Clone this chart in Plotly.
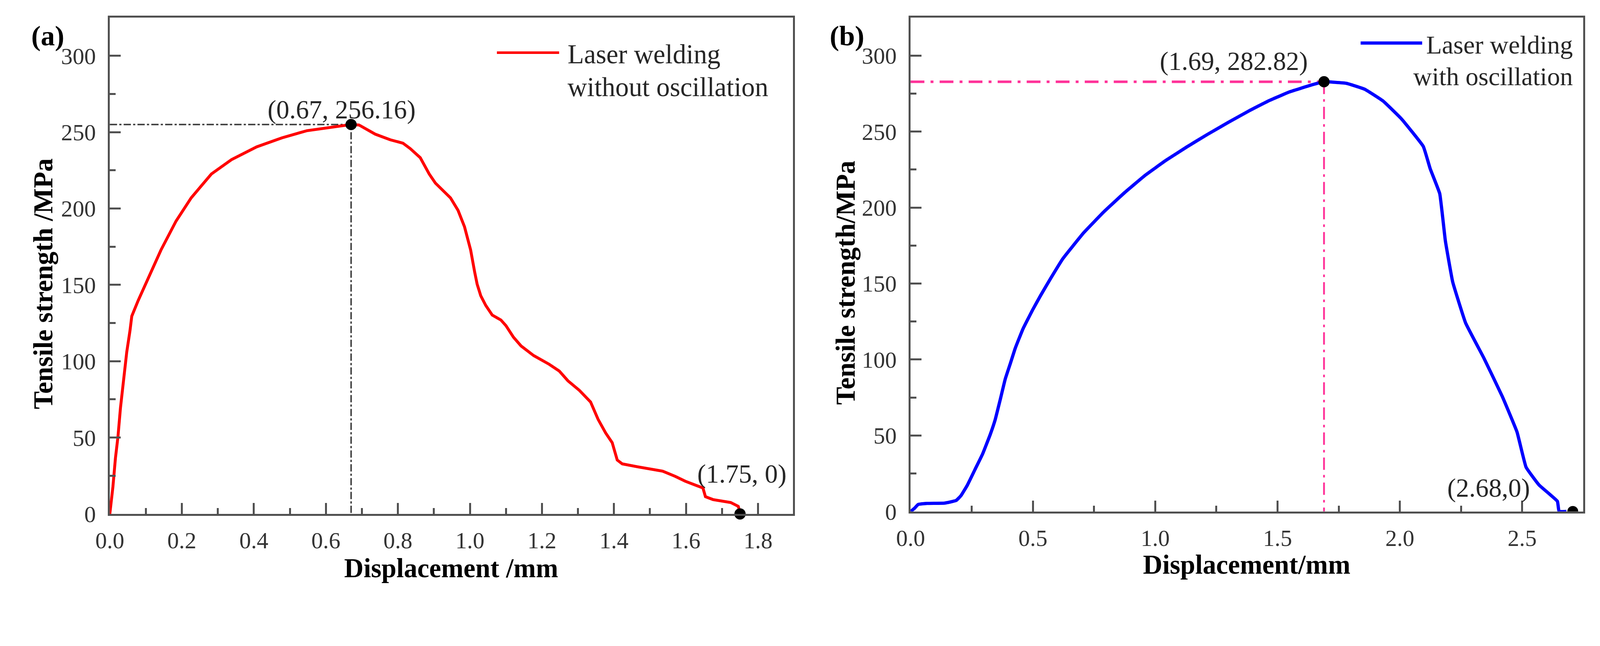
import plotly.graph_objects as go

# ---------------- data ----------------
# (a) Laser welding without oscillation
disp_a = [0, 0.0086, 0.0156, 0.0226, 0.0296, 0.038, 0.047, 0.056, 0.061, 0.0787, 0.0997,
          0.142, 0.184, 0.226, 0.282, 0.338, 0.408, 0.478, 0.548, 0.618, 0.67, 0.692,
          0.737, 0.779, 0.814, 0.834, 0.862, 0.887, 0.904, 0.946, 0.967, 0.985, 1.002,
          1.013, 1.02, 1.03, 1.044, 1.062, 1.086, 1.1, 1.121, 1.142, 1.177, 1.22, 1.248,
          1.272, 1.304, 1.335, 1.356, 1.377, 1.395, 1.409, 1.423, 1.465, 1.535, 1.57,
          1.598, 1.647, 1.654, 1.675, 1.724, 1.745, 1.752]
stress_a = [0, 17.7, 36.5, 50.5, 69.5, 87, 106, 120, 129.5, 139.7, 150.5,
            172.8, 191.8, 207, 222.6, 232, 240.4, 246.3, 251, 253.5, 255, 254.7,
            248.7, 245, 242.8, 239.3, 233.3, 222.6, 216.7, 207, 198.8, 188, 172.8,
            158.6, 150.5, 142.9, 136.5, 130.2, 127, 123.3, 115.7, 110, 103.7, 98, 93.6,
            87.2, 80.9, 73.3, 61.9, 53, 46.7, 35.3, 32.8, 30.9, 28, 24.6,
            21.4, 17, 11.3, 9.4, 7.5, 5, 0]

# (b) Laser welding with oscillation
disp_b = [0, 0.0156, 0.031, 0.067, 0.139, 0.186, 0.206, 0.232, 0.263, 0.294, 0.325,
          0.346, 0.366, 0.387, 0.407, 0.428, 0.459, 0.5, 0.531, 0.573, 0.623, 0.708,
          0.792, 0.876, 0.961, 1.045, 1.13, 1.214, 1.298, 1.383, 1.467, 1.552, 1.637,
          1.69, 1.781, 1.856, 1.931, 2.006, 2.096, 2.124, 2.163, 2.186, 2.216, 2.269,
          2.344, 2.419, 2.479, 2.516, 2.569, 2.644, 2.651, 2.681]
stress_b = [0, 2, 4.6, 5.3, 5.5, 7.2, 10.4, 17.3, 27.5, 37.7, 50.4,
            60.5, 73.3, 87.2, 97, 107.5, 120, 133, 142, 153.5, 166.5, 183.5,
            197.5, 210, 221.5, 231.2, 240, 248.2, 256, 263.6, 270.5, 276.3, 280.6,
            282.82, 281.8, 277.9, 270.2, 258.5, 240.2, 225.6, 209.2, 178.2, 151.1, 124,
            100.8, 75.6, 52.3, 29.1, 17.4, 6.7, 0, 0]

peak_a = (0.67, 255)
end_a = (1.75, 0)
peak_b = (1.69, 282.82)
end_b = (2.707, 0)

label_peak_a = "(0.67, 256.16)"
label_end_a = "(1.75, 0)"
label_peak_b = "(1.69, 282.82)"
label_end_b = "(2.68,0)"

legend_a = ["Laser welding", "without oscillation"]
legend_b = ["Laser welding", "with oscillation"]

x_ticks_a = dict(dtick=0.2, minor=0.1, rng=[0, 1.897])
x_ticks_b = dict(dtick=0.5, minor=0.25, rng=[0, 2.75])
y_range = [0, 325]

# ---------------- layout geometry ----------------
# The page is photographed slightly zoomed (about 1.076x) with an 8px body margin,
# so target positions (in photo pixels) are converted to CSS pixels here.
Z = 1.076
M = 8
WF = int(round(4397 / Z - M))
HF = int(round(1653 / Z - M))


def s(v):
    return v / Z


def cx(p):
    return (p / Z - M) / WF


def cy(p):
    return 1 - (p / Z - M) / HF


FONT = "Liberation Serif"
AXC = "#505050"
TXT = "#262626"

fig = go.Figure()

# reference lines (a)
fig.add_trace(go.Scatter(x=[0, peak_a[0], peak_a[0]], y=[peak_a[1], peak_a[1], 0],
                         mode="lines",
                         line=dict(color="#3a3a3a", width=s(4),
                                   dash=f"{s(20):.1f}px,{s(6):.1f}px,{s(6):.1f}px,{s(6):.1f}px"),
                         showlegend=False, hoverinfo="skip", xaxis="x", yaxis="y"))
# curve (a)
fig.add_trace(go.Scatter(x=disp_a, y=stress_a, mode="lines", name="Laser welding without oscillation",
                         line=dict(color="#ff0000", width=s(8)),
                         showlegend=False, xaxis="x", yaxis="y"))
fig.add_trace(go.Scatter(x=[peak_a[0], end_a[0]], y=[peak_a[1], end_a[1]], mode="markers",
                         marker=dict(color="black", size=s(31)), cliponaxis=False,
                         showlegend=False, xaxis="x", yaxis="y"))

# reference lines (b)
fig.add_trace(go.Scatter(x=[0, peak_b[0]], y=[peak_b[1], peak_b[1]],
                         mode="lines",
                         line=dict(color="#ff3399", width=s(7),
                                   dash=f"{s(38):.1f}px,{s(17):.1f}px,{s(8):.1f}px,{s(17):.1f}px"),
                         showlegend=False, hoverinfo="skip", xaxis="x2", yaxis="y2"))
fig.add_trace(go.Scatter(x=[peak_b[0], peak_b[0]], y=[peak_b[1], 0],
                         mode="lines",
                         line=dict(color="#ff3399", width=s(5),
                                   dash=f"{s(34):.1f}px,{s(14):.1f}px,{s(7):.1f}px,{s(14):.1f}px"),
                         showlegend=False, hoverinfo="skip", xaxis="x2", yaxis="y2"))
# curve (b)
fig.add_trace(go.Scatter(x=disp_b, y=stress_b, mode="lines", name="Laser welding with oscillation",
                         line=dict(color="#0000ff", width=s(9), shape="spline", smoothing=0.3),
                         showlegend=False, xaxis="x2", yaxis="y2"))
fig.add_trace(go.Scatter(x=[peak_b[0]], y=[peak_b[1]], mode="markers",
                         marker=dict(color="black", size=s(31)), cliponaxis=False,
                         showlegend=False, xaxis="x2", yaxis="y2"))
fig.add_trace(go.Scatter(x=[end_b[0]], y=[end_b[1]], mode="markers",
                         marker=dict(color="black", size=s(30)), cliponaxis=True,
                         showlegend=False, xaxis="x2", yaxis="y2"))

tickfont = dict(family=FONT, size=s(64), color="#333333")


def xax(domain, t, anchor):
    return dict(domain=domain, range=t["rng"], dtick=t["dtick"], tick0=0, tickformat=".1f",
                anchor=anchor,
                showgrid=False, zeroline=False, showline=True, linecolor=AXC, linewidth=s(5),
                mirror=True, ticks="inside", ticklen=s(30), tickwidth=s(5), tickcolor=AXC,
                minor=dict(ticks="inside", ticklen=s(16), tickwidth=s(5), tickcolor=AXC,
                           dtick=t["minor"], tick0=0, showgrid=False),
                tickfont=tickfont, ticklabelstandoff=12, fixedrange=True)


def yax(domain, anchor):
    return dict(domain=domain, range=y_range, dtick=50, tick0=0, anchor=anchor,
                showgrid=False, zeroline=False, showline=True, linecolor=AXC, linewidth=s(5),
                mirror=True, ticks="inside", ticklen=s(30), tickwidth=s(5), tickcolor=AXC,
                minor=dict(ticks="inside", ticklen=s(16), tickwidth=s(5), tickcolor=AXC,
                           dtick=25, tick0=0, showgrid=False),
                tickfont=tickfont, ticklabelstandoff=19, fixedrange=True)


xa = xax([cx(265), cx(2164)], x_ticks_a, "y")
xb = xax([cx(2491), cx(4361)], x_ticks_b, "y2")
ya = yax([cy(1447), cy(49.5)], "x")
yb = yax([cy(1440), cy(49.5)], "x2")

annotations = []


def ann(text, x, y, size=72, bold=False, xanchor="center", yanchor="middle", angle=0, color=TXT):
    t = f"<b>{text}</b>" if bold else text
    annotations.append(dict(text=t, x=cx(x), y=cy(y), xref="paper", yref="paper",
                            showarrow=False, xanchor=xanchor, yanchor=yanchor, textangle=angle,
                            font=dict(family=FONT, size=s(size), color=color)))


# axis titles
ann("Tensile strength /MPa", 80, 799, size=74, bold=True, angle=-90, color="black")
ann("Displacement /mm", 1214, 1600, size=74, bold=True, color="black")
ann("Tensile strength/MPa", 2311, 796, size=74, bold=True, angle=-90, color="black")
ann("Displacement/mm", 3425, 1590, size=74, bold=True, color="black")
# panel labels
ann("(a)", 93, 100, size=78, bold=True, color="black")
ann("(b)", 2314, 100, size=78, bold=True, color="black")
# point labels
ann(label_peak_a, 909, 309, size=72)
ann(label_end_a, 2022, 1334, size=72)
ann(label_peak_b, 3389, 172, size=72)
ann(label_end_b, 4098, 1374, size=72)
# legend texts
ann(legend_a[0], 1535, 153, size=74, xanchor="left")
ann(legend_a[1], 1535, 245, size=74, xanchor="left")
ann(legend_b[0], 4335, 126, size=71, xanchor="right")
ann(legend_b[1], 4335, 215, size=71, xanchor="right")

shapes = [
    dict(type="line", xref="paper", yref="paper", x0=cx(1341), x1=cx(1514), y0=cy(148), y1=cy(148),
         line=dict(color="#ff0000", width=s(7))),
    dict(type="line", xref="paper", yref="paper", x0=cx(3742), x1=cx(3913), y0=cy(121), y1=cy(121),
         line=dict(color="#0000ff", width=s(9))),
]

fig.update_layout(
    width=WF, height=HF,
    margin=dict(l=0, r=0, t=0, b=0),
    paper_bgcolor="white", plot_bgcolor="white",
    xaxis=xa, yaxis=ya, xaxis2=xb, yaxis2=yb,
    annotations=annotations, shapes=shapes,
    showlegend=False,
    font=dict(family=FONT),
)

fig.write_html("out.html", config=dict(displayModeBar=False))
